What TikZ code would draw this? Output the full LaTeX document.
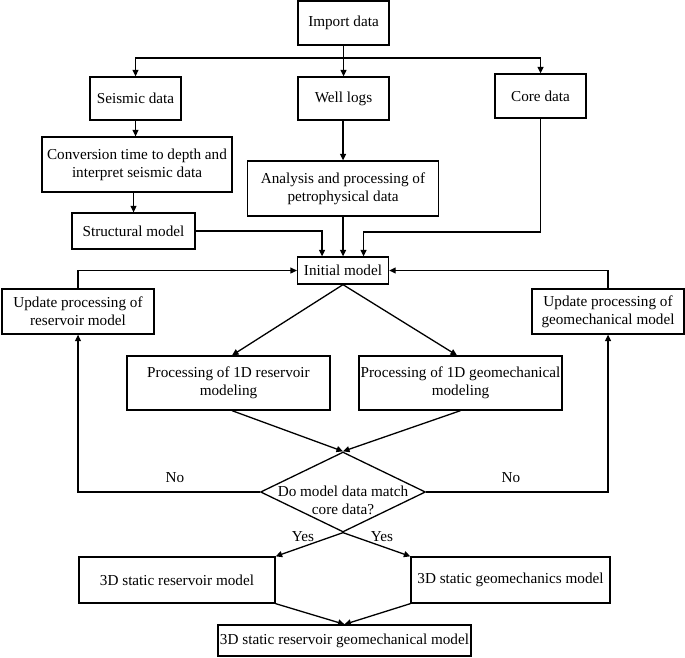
\documentclass[tikz,border=0pt]{standalone}
\usepackage{fontspec}
\setmainfont{Liberation Serif}
\usetikzlibrary{arrows.meta,shapes.geometric}

\begin{document}
\begin{tikzpicture}[x=1pt,y=1pt,line width=1.3pt,
	box/.style={draw,inner sep=1pt,align=center,font=\fontsize{15.2}{18}\selectfont},
	lbl/.style={inner sep=0pt,align=center,font=\fontsize{15.2}{18}\selectfont},
	arr/.style={-{Triangle[length=6.5pt,width=6pt]}}]
\useasboundingbox (0,0) rectangle (685,-658);
		\node[box,minimum width=91pt,minimum height=44pt] (A) at (343.5,-23) {Import data};
		\node[box,minimum width=91pt,minimum height=43pt] (S) at (135.5,-98.5) {Seismic data};
		\node[box,minimum width=91pt,minimum height=43pt] (W) at (343.5,-98.5) {Well logs};
		\node[box,minimum width=91pt,minimum height=44pt] (C) at (540.5,-96) {Core data};
		\node[box,minimum width=190pt,minimum height=55pt] (T) at (137,-164.5) {Conversion time to depth and\\interpret seismic data};
		\node[box,minimum width=191pt,minimum height=55pt] (P) at (343,-188.5) {Analysis and processing of\\petrophysical data};
		\node[box,minimum width=123pt,minimum height=36pt] (M) at (133.5,-231) {Structural model};
		\node[box,minimum width=91pt,minimum height=27pt] (I) at (343,-270.5) {Initial model};
		\node[box,minimum width=152pt,minimum height=45pt] (UL) at (78,-311.5) {Update processing of\\reservoir model};
		\node[box,minimum width=152pt,minimum height=45pt] (UR) at (608,-311.5) {Update processing of\\geomechanical model};
		\node[box,minimum width=203pt,minimum height=54pt] (PL) at (228.5,-383) {Processing of 1D reservoir\\modeling};
		\node[box,minimum width=203pt,minimum height=54pt] (PR) at (460.5,-383) {Processing of 1D geomechanical\\modeling};
		\node[draw,diamond,minimum width=165pt,minimum height=80pt,inner sep=0pt] (Q) at (343,-492) {};
		\node[lbl] (Qt) at (343,-500) {Do model data match\\core data?};
		\node[box,minimum width=196pt,minimum height=46pt] (R) at (177,-580) {3D static reservoir model};
		\node[box,minimum width=199pt,minimum height=46pt] (G) at (510.5,-580) {3D static geomechanics model};
		\node[box,minimum width=253pt,minimum height=31pt] (F) at (344.5,-640.5) {3D static reservoir geomechanical model};
		\node[lbl] (NL) at (175,-478) {No};
		\node[lbl] (NR) at (511,-478) {No};
		\node[lbl] (YL) at (303,-537) {Yes};
		\node[lbl] (YR) at (382,-537) {Yes};
		\coordinate (B) at (343.5,-58);
		\coordinate (K) at (363.5,-232);
		\draw[arr] (A) -- (W);
		\draw[arr] (B) -| (S);
		\draw[arr] (B) -| (C);
		\draw[arr] (S) -- (S |- T.north);
		\draw[arr] (T.south -| M) -- (M);
		\draw[arr] (W.south -| P) -- (P);
		\draw[arr] (P) -- (I);
		\draw[arr] (M.east) -| ([xshift=-21pt]I.north);
		\draw[arr] (C) |- (K) -- (K |- I.north);
		\draw[arr] (UL) |- (I);
		\draw[arr] (UR) |- (I);
		\draw[arr] (I.south) -- ([xshift=3.5pt]PL.north);
		\draw[arr] (I.south) -- ([xshift=-3.5pt]PR.north);
		\draw[arr] ([xshift=3.5pt]PL.south) -- (Q.north);
		\draw[arr] (PR.south) -- (Q.north);
		\draw[arr] (Q.west) -| (UL);
		\draw[arr] (Q.east) -| (UR);
		\draw[arr] (Q.south) -- (R.north east);
		\draw[arr] (Q.south) -- (G.north west);
		\draw[arr] (R.south east) -- (F.north);
		\draw[arr] (G.south west) -- (F.north);
\end{tikzpicture}
\end{document}
